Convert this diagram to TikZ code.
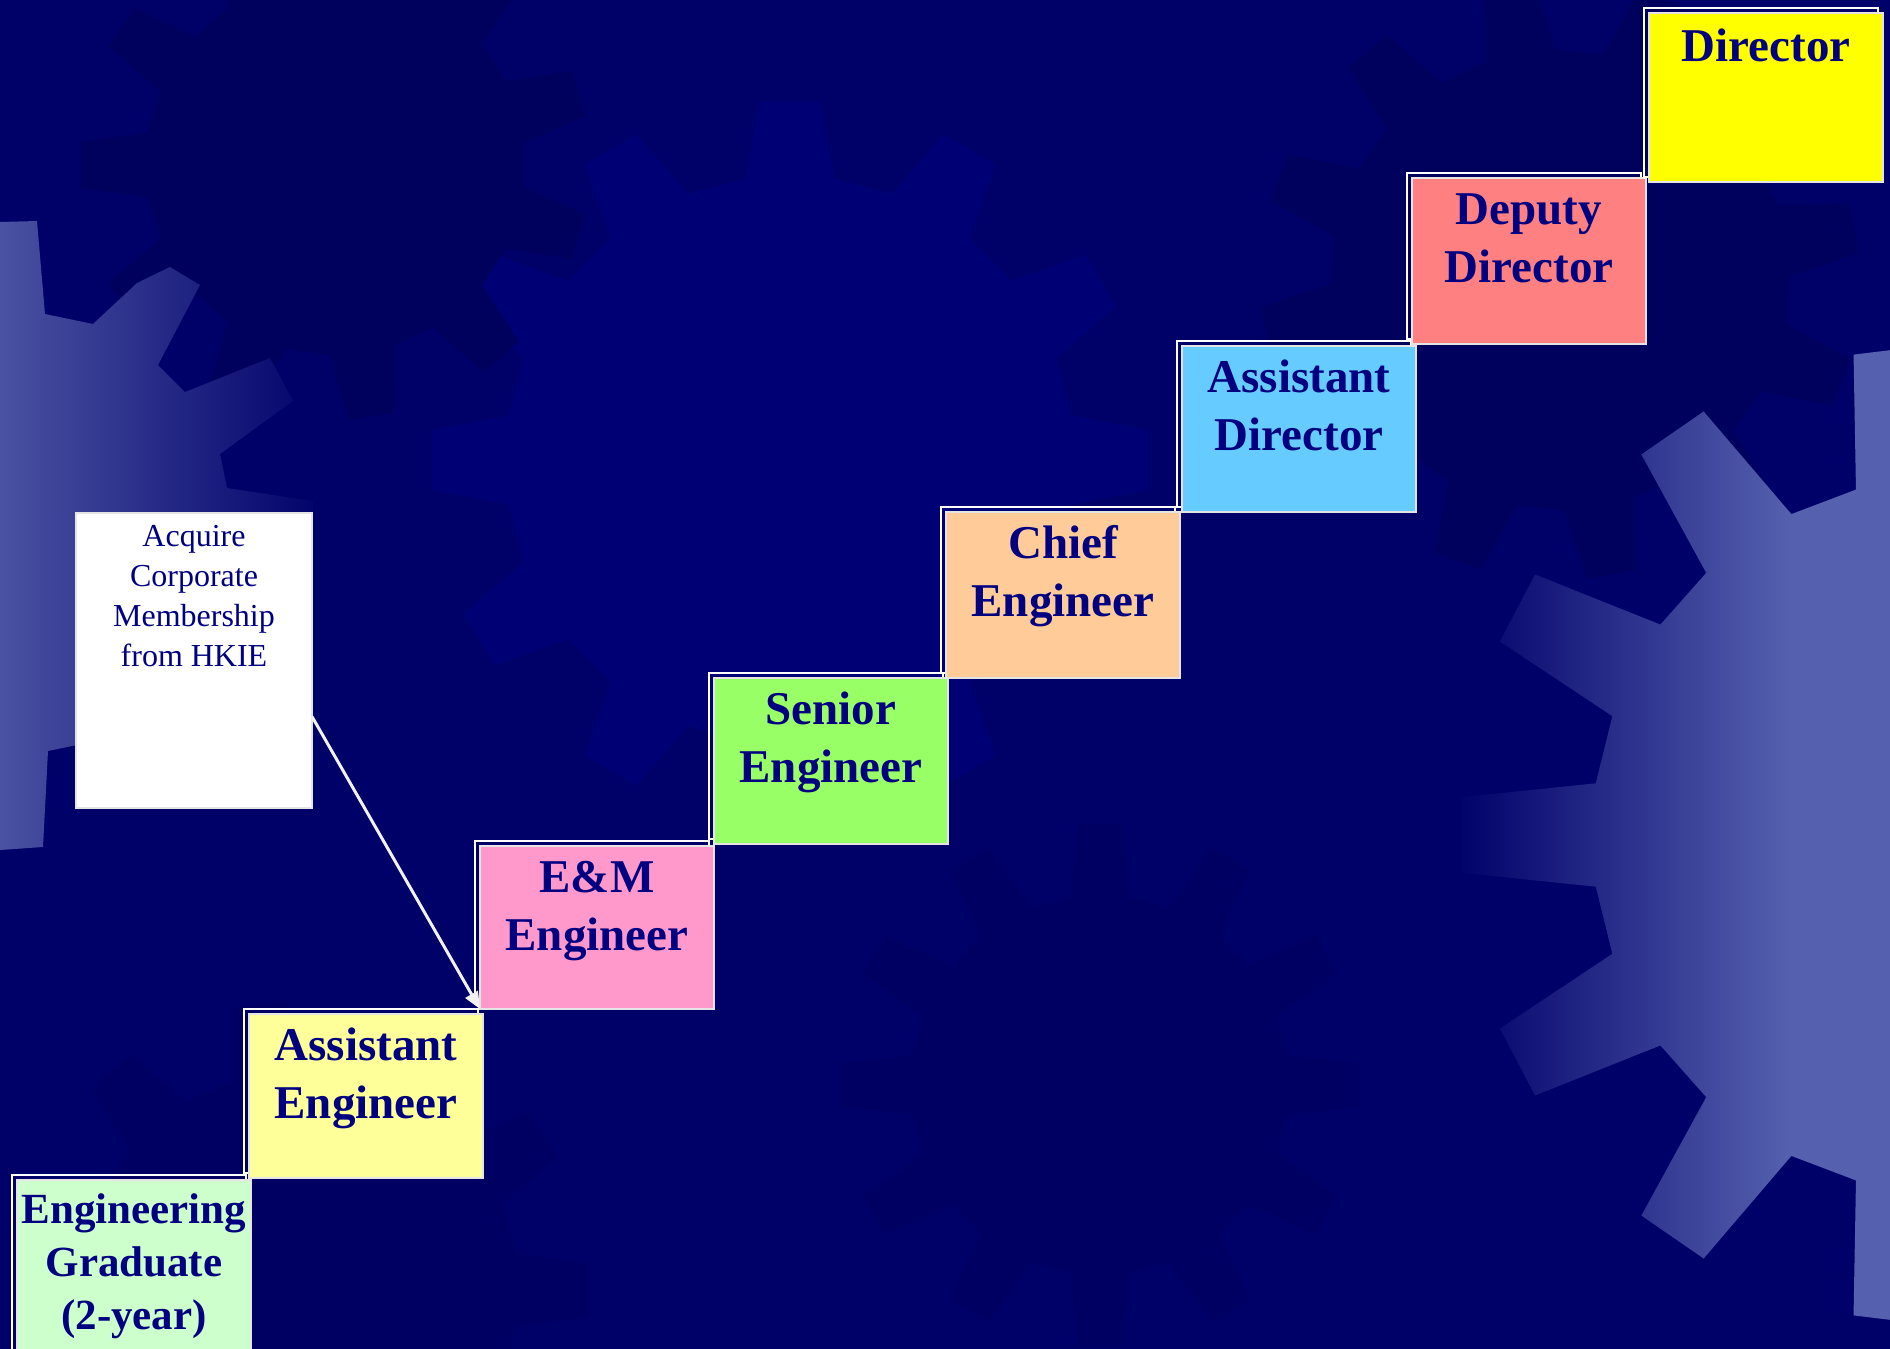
\documentclass[tikz,border=0pt]{standalone}
\usepackage{fontspec}
\newfontfamily\tnr{Liberation Serif}
\usetikzlibrary{arrows.meta,calc}
\definecolor{bgnavy}{HTML}{000069}
\definecolor{txtnavy}{HTML}{000080}
\definecolor{gdark}{HTML}{00005D}
\definecolor{gmid}{HTML}{000063}
\definecolor{glight}{HTML}{000075}
\definecolor{lavR}{HTML}{5560AE}
\definecolor{lavL}{HTML}{4A52A2}
\definecolor{cGrad}{HTML}{CCFFCC}
\definecolor{cAE}{HTML}{FFFF99}
\definecolor{cEM}{HTML}{FF99CC}
\definecolor{cSE}{HTML}{99FF66}
\definecolor{cCE}{HTML}{FFCC99}
\definecolor{cAD}{HTML}{66CCFF}
\definecolor{cDD}{HTML}{FF8080}
\definecolor{cD}{HTML}{FFFF00}
\definecolor{boxedge}{HTML}{E4E4E4}
\definecolor{arrowwhite}{HTML}{F2F2F2}

\newcommand\gearshape[7]{%
  \pgfmathsetmacro\gearpitch{360/#5}%
  \pgfmathtruncatemacro\gearlast{#5-1}%
  \path[#7,shift={(#1,#2)}] ({#6-0.3*\gearpitch}:#3)
    \foreach \k in {0,...,\gearlast}{
      -- ({#6+\k*\gearpitch-0.3*\gearpitch}:#3)
      -- ({#6+\k*\gearpitch-0.16*\gearpitch}:#4)
      -- ({#6+\k*\gearpitch+0.16*\gearpitch}:#4)
      -- ({#6+\k*\gearpitch+0.3*\gearpitch}:#3)}
    -- cycle;}

\tikzset{
  frameline/.style={draw=white, line width=2.5pt},
  rungbox/.style={draw=boxedge, line width=1.6pt, inner sep=0pt, outer sep=0pt,
    anchor=north west, text=txtnavy, font=\tnr\bfseries\fontsize{47}{58}\selectfont},
  acqbox/.style={draw=boxedge, fill=white, line width=1.5pt, inner sep=0pt, outer sep=0pt,
    anchor=north west, text=txtnavy, font=\tnr\fontsize{32}{40}\selectfont},
  linkarrow/.style={draw=arrowwhite, line width=3pt, -{Triangle[length=17pt,width=14pt]}}
}

% name, x, y, height, colour, text
\newcommand\rung[6]{%
  \draw[frameline] (#2-5,#3-5) rectangle ++(234,#4);
  \node[rungbox, fill=#5] (#1) at (#2,#3)
    {\parbox[t][#4pt][t]{234pt}{\centering #6}};}

\begin{document}
\begin{tikzpicture}[x=1pt,y=-1pt]
\useasboundingbox (0,0) rectangle (1890,1349);
\clip (0,0) rectangle (1890,1349);
% background
\fill[bgnavy] (0,0) rectangle (1890,1349);
\gearshape{790}{460}{285}{360}{12}{270}{fill=glight}
\gearshape{335}{165}{190}{255}{11}{180}{fill=gdark}
\gearshape{1560}{280}{230}{300}{12}{200}{fill=gdark}
\gearshape{1100}{1085}{190}{262}{12}{270}{fill=gmid}
\gearshape{300}{1290}{220}{290}{11}{0}{fill=gmid}
% left light gear
\begin{scope}
  \clip (-10,222) -- (0,222) -- (37,221) -- (45,314) -- (93,324) -- (137,283)
    -- (170,267) -- (200,285) -- (158,365) -- (185,392) -- (270,358) -- (293,401)
    -- (220,454) -- (227,488) -- (313,501) -- (312,600) -- (200,700) -- (77,745)
    -- (48,751) -- (43,847) -- (0,850) -- (-10,850) -- cycle;
  \shade[left color=lavL, right color=bgnavy] (0,200) rectangle (330,900);
\end{scope}
% right light gear
\begin{scope}
  \gearshape{1950}{835}{358}{490}{13}{180}{clip}
  \shade[left color=bgnavy, right color=lavR] (1455,300) rectangle (1790,1400);
  \fill[lavR] (1789,300) rectangle (1900,1400);
\end{scope}

% career ladder
\rung{grad}{17}{1180}{176}{cGrad}{\fontsize{43}{53}\selectfont\rule{0pt}{43pt}Engineering\\Graduate\\(2-year)}
\rung{ae}{249}{1014}{164}{cAE}{\rule{0pt}{46pt}Assistant\\Engineer}
\rung{em}{480}{846}{163}{cEM}{\rule{0pt}{46pt}E\&M\\Engineer}
\rung{se}{714}{678}{166}{cSE}{\rule{0pt}{46pt}Senior\\Engineer}
\rung{ce}{946}{512}{166}{cCE}{\rule{0pt}{46pt}Chief\\Engineer}
\rung{ad}{1182}{346}{166}{cAD}{\rule{0pt}{46pt}Assistant\\Director}
\rung{dd}{1412}{178}{166}{cDD}{\rule{0pt}{46pt}Deputy\\Director}
\rung{dir}{1649}{13}{169}{cD}{\rule{0pt}{48pt}Director}

% note
\node[acqbox] (acq) at (76,513)
  {\parbox[t][295pt][t]{236pt}{\centering\rule{0pt}{33pt}Acquire\\Corporate\\Membership\\from HKIE}};
\draw[linkarrow] ($(acq.north east)!0.69!(acq.south east)$) -- (em.south west);
\end{tikzpicture}
\end{document}
